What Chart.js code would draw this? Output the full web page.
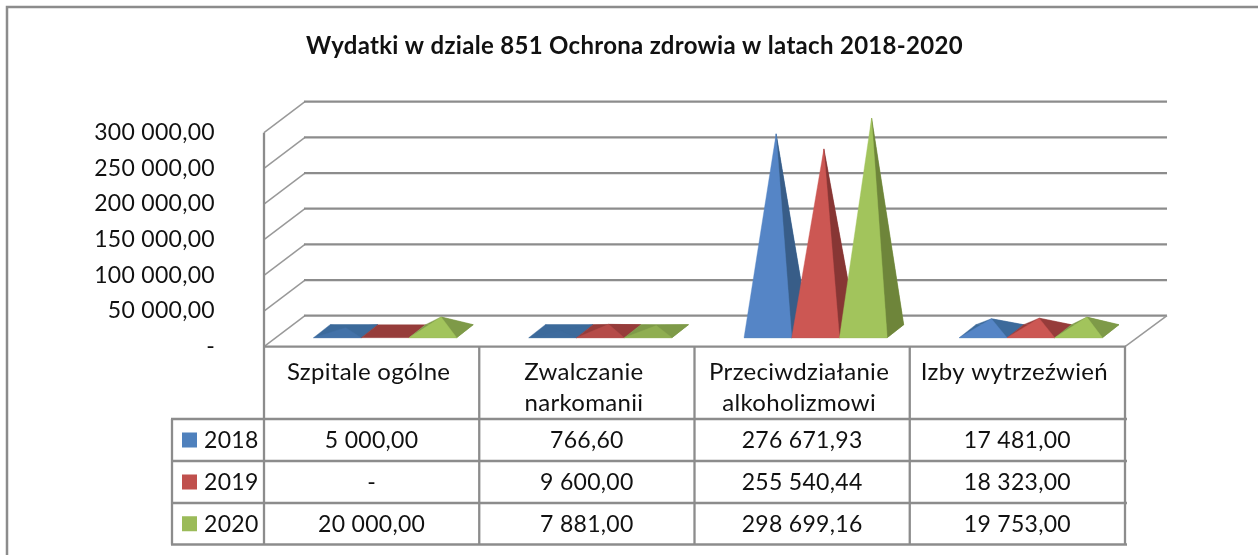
<!DOCTYPE html>
<html lang="pl">
<head>
<meta charset="utf-8">
<title>Wydatki w dziale 851</title>
<script src="https://cdn.jsdelivr.net/npm/chart.js@4/dist/chart.umd.js"></script>
<style>
html,body{margin:0;padding:0;background:#fff;overflow:hidden}
#wrap{position:relative;width:1258px;height:555px}
</style>
</head>
<body>
<div id="wrap"><canvas id="c" width="1258" height="555"></canvas></div>
<script>
const titleText = 'Wydatki w dziale 851 Ochrona zdrowia w latach 2018-2020';
const categories = [['Szpitale ogólne'], ['Zwalczanie', 'narkomanii'], ['Przeciwdziałanie', 'alkoholizmowi'], ['Izby wytrzeźwień']];
const years = ['2018', '2019', '2020'];
const values2018 = [5000.00, 766.60, 276671.93, 17481.00];
const values2019 = [0, 9600.00, 255540.44, 18323.00];
const values2020 = [20000.00, 7881.00, 298699.16, 19753.00];
const frontColors = [[85, 133, 198], [204, 87, 83], [162, 196, 92]];
const sideColors = ['#385d88', '#873634', '#6e853a'];
const backColors = [[60, 106, 155], [150, 60, 58], [126, 154, 72]];
const keyColors = ['#4f81bd', '#c0504d', '#9bbb59'];
const LINE = '#8c8c8c';
const FONT = 'Lato';
const SIZE = 23;
const SPACING = '0.3px';

function fmt(v) {
  if (!v) return '-';
  const [i, d] = v.toFixed(2).split('.');
  return i.replace(/\B(?=(\d{3})+$)/g, ' ') + ',' + d;
}
const rgb = c => `rgb(${c[0]},${c[1]},${c[2]})`;
const mix = (a, b, t) => a.map((v, i) => Math.round(v + (b[i] - v) * t));

const sceneryPlugin = {
  id: 'scenery',
  beforeLayout(chart) { chart.ctx.letterSpacing = SPACING; },
  beforeDraw(chart) { chart.ctx.letterSpacing = SPACING; },
  beforeDatasetsDraw(chart) {
    const { ctx, chartArea: a, scales: { y } } = chart;
    const DX = 41, DY = 31;
    ctx.save();
    ctx.lineCap = 'butt';
    ctx.strokeStyle = LINE; ctx.lineWidth = 2.5;
    ctx.beginPath(); ctx.moveTo(7, 555); ctx.lineTo(7, 7); ctx.lineTo(1258, 7); ctx.stroke();
    y.ticks.forEach(t => {
      const py = y.getPixelForValue(t.value);
      ctx.strokeStyle = '#999'; ctx.lineWidth = 1.5;
      ctx.beginPath(); ctx.moveTo(a.left, py); ctx.lineTo(a.left + DX, py - DY); ctx.stroke();
      ctx.strokeStyle = LINE; ctx.lineWidth = 2.3;
      ctx.beginPath(); ctx.moveTo(a.left + DX - 1, py - DY); ctx.lineTo(a.right + DX + 1, py - DY); ctx.stroke();
    });
    ctx.strokeStyle = '#999'; ctx.lineWidth = 1.5;
    ctx.beginPath(); ctx.moveTo(a.right, a.bottom); ctx.lineTo(a.right + DX + 1, a.bottom - DY); ctx.stroke();
    ctx.strokeStyle = LINE; ctx.lineWidth = 2.3;
    ctx.beginPath(); ctx.moveTo(a.left, a.top); ctx.lineTo(a.left, a.bottom); ctx.stroke();
    ctx.restore();
  },
  afterDatasetsDraw(chart) {
    const { ctx } = chart;
    const INSET_X = 13.5, INSET_Y = 9, BX = 16.5, BY = 13;
    const poly = (pts, col) => {
      ctx.fillStyle = col; ctx.strokeStyle = col; ctx.lineWidth = 0.4;
      ctx.beginPath();
      pts.forEach((p, i) => i ? ctx.lineTo(p[0], p[1]) : ctx.moveTo(p[0], p[1]));
      ctx.closePath(); ctx.fill(); ctx.stroke();
    };
    ctx.save();
    const n = chart.data.labels.length;
    for (let c = 0; c < n; c++) {
      chart.data.datasets.forEach((ds, s) => {
        const bar = chart.getDatasetMeta(s).data[c];
        const w = bar.width, x0 = bar.x - w / 2 + INSET_X, yb = bar.base - INSET_Y;
        const h = bar.base - bar.y;
        const fl = [x0, yb], fr = [x0 + w, yb], br = [x0 + w + BX, yb - BY], bl = [x0 + BX, yb - BY];
        const apex = [x0 + w / 2 + BX / 2, yb - BY / 2 - h];
        poly([fl, fr, br, bl], rgb(backColors[s]));
        if (h > 0.01) {
          poly([bl, br, apex], rgb(backColors[s]));
          poly([fr, br, apex], h > 60 ? sideColors[s] : rgb(backColors[s]));
          poly([fl, fr, apex], rgb(mix(backColors[s], frontColors[s], Math.min(1, h / 12))));
        }
      });
    }
    ctx.restore();
  },
  afterDraw(chart) {
    const { ctx, chartArea: a, scales: { x } } = chart;
    const rows = [419, 461, 503, 544.5];
    const legendLeft = 172;
    ctx.save();
    ctx.strokeStyle = LINE; ctx.lineWidth = 2.3;
    const line = (x1, y1, x2, y2) => { ctx.beginPath(); ctx.moveTo(x1, y1); ctx.lineTo(x2, y2); ctx.stroke(); };
    line(a.left - 1, a.bottom, a.right + 1, a.bottom);
    rows.forEach(r => line(legendLeft - 1, r, a.right + 2, r));
    line(legendLeft, rows[0], legendLeft, rows[3]);
    const step = (a.right - a.left) / chart.data.labels.length;
    for (let i = 0; i <= chart.data.labels.length; i++) line(a.left + i * step, a.bottom, a.left + i * step, rows[3]);
    ctx.font = SIZE + 'px ' + FONT;
    ctx.textBaseline = 'middle';
    chart.data.datasets.forEach((ds, s) => {
      const cy = (rows[s] + rows[s + 1]) / 2;
      ctx.fillStyle = keyColors[s];
      ctx.fillRect(182, cy - 7.5, 15, 15);
      ctx.fillStyle = '#111';
      ctx.textAlign = 'left';
      ctx.fillText(ds.label, 204, cy + 1);
      ctx.textAlign = 'center';
      ds.data.forEach((v, c) => ctx.fillText(fmt(v), x.getPixelForValue(c), cy + 1));
    });
    ctx.restore();
  }
};

const makeSet = (label, data) => ({ label, data, xAxisID: 'x', yAxisID: 'y', backgroundColor: 'rgba(0,0,0,0)', borderWidth: 0, categoryPercentage: 143 / 215, barPercentage: 1 });

new Chart(document.getElementById('c'), {
  type: 'bar',
  data: {
    labels: categories,
    datasets: [makeSet(years[0], values2018), makeSet(years[1], values2019), makeSet(years[2], values2020)]
  },
  plugins: [sceneryPlugin],
  options: {
    responsive: false,
    animation: false,
    layout: { padding: { left: 11, right: 0, top: 0, bottom: 0 } },
    plugins: {
      legend: { display: false },
      tooltip: { enabled: false },
      title: {
        display: true,
        text: titleText,
        color: '#111',
        font: { family: FONT, size: 24, weight: 'bold', lineHeight: 1.2 },
        padding: { top: 32, bottom: 71.9 }
      }
    },
    scales: {
      x: {
        grid: { display: false, drawTicks: false },
        border: { display: false },
        afterFit(s) { s.height = 208.3; },
        ticks: { color: '#111', font: { family: FONT, size: 24, lineHeight: 1.3 }, padding: 10, labelOffset: -3, maxRotation: 0, autoSkip: false }
      },
      y: {
        min: 0, max: 300000,
        grid: { display: false, drawTicks: false },
        border: { display: false },
        afterFit(s) { s.width = 253; },
        ticks: { stepSize: 50000, color: '#111', font: { family: FONT, size: SIZE }, padding: 49, callback: v => fmt(v) }
      },
      pad: {
        type: 'linear',
        position: 'right',
        grid: { display: false, drawTicks: false },
        border: { display: false },
        ticks: { display: false },
        afterFit(s) { s.width = 133; }
      }
    }
  }
});
</script>
</body>
</html>
